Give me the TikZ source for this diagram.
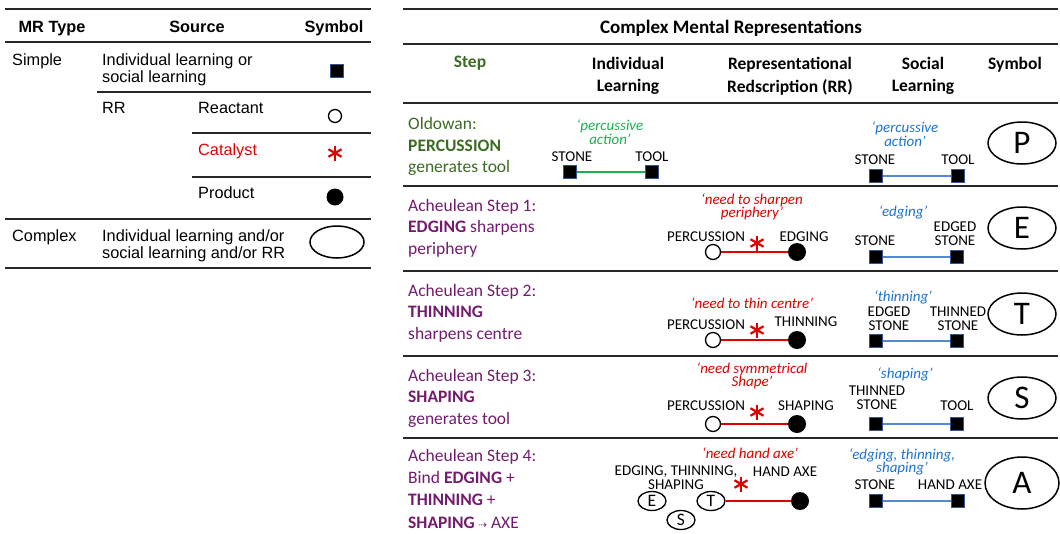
\documentclass[tikz,border=0pt]{standalone}
\usepackage{fontspec}
\setmainfont{Carlito}
\newfontfamily\arial{Liberation Sans}
\newfontfamily\dejavu{DejaVu Sans}
\usetikzlibrary{shapes.geometric}
\definecolor{dkgreen}{RGB}{60,108,36}
\definecolor{acpurple}{RGB}{115,28,110}
\definecolor{ltgreen}{RGB}{30,176,80}
\definecolor{bltext}{RGB}{30,115,210}
\definecolor{blline}{RGB}{85,135,210}
\definecolor{rrred}{RGB}{225,0,0}
\definecolor{sqblue}{RGB}{50,85,150}
\definecolor{rulegray}{RGB}{40,40,40}
\newcommand\catal[2]{%
  \coordinate (#1) at (#2);
  \draw[rrred, line width=2.2pt] (#1) ++(0,-7.5) -- ++(0,15);
  \draw[rrred, line width=2.2pt] (#1) ++(-6.5,-3.75) -- ++(13,7.5);
  \draw[rrred, line width=2.2pt] (#1) ++(-6.5,3.75) -- ++(13,-7.5);
}
\begin{document}
\begin{tikzpicture}[x=1pt,y=-1pt,
  lt/.style={font=\arial\fontsize{16.3}{17.3}\selectfont, inner sep=0, align=left},
  lth/.style={font=\arial\bfseries\fontsize{16.3}{17}\selectfont, inner sep=0, anchor=base},
  thickrule/.style={line width=2.2pt, draw=rulegray},
  rule/.style={line width=1.5pt, draw=rulegray},
  sq/.style={rectangle, draw=sqblue, fill=black, line width=1.3pt, minimum size=13pt, inner sep=0},
  oc/.style={circle, draw=black, line width=1.3pt, fill=white, minimum size=15pt, inner sep=0},
  fc/.style={circle, fill=black, minimum size=18pt, inner sep=0},
  big/.style={ellipse, draw=black, line width=1.5pt, minimum width=68pt, minimum height=42pt, inner sep=0, font=\fontsize{33}{33}\selectfont},
  small/.style={ellipse, draw=black, line width=1.3pt, minimum width=28pt, minimum height=19pt, inner sep=0, font=\fontsize{17.5}{17.5}\selectfont},
  lab/.style={font=\fontsize{15}{14}\selectfont, inner sep=0, align=center},
  itlab/.style={font=\fontsize{15}{13.5}\selectfont\itshape, inner sep=0, align=center},
  steptxt/.style={font=\fontsize{17.5}{21.5}\selectfont, inner sep=0, align=left, anchor=north west},
  hdr/.style={font=\bfseries\fontsize{17.5}{22.5}\selectfont, inner sep=0, align=center},
  redline/.style={draw=rrred, line width=1.8pt},
]
\useasboundingbox (0,0) rectangle (1060,533);
\fill[white] (0,0) rectangle (1060,533);

% ---------------- left table ----------------
\draw[thickrule] (5,9) -- (371,9);
\node[lth] (hmr) at (52,32) {MR Type};
\node[lth] (hsrc) at (197,32) {Source};
\node[lth] (hsym) at (334,32) {Symbol};
\draw[rule] (5,42) -- (371,42);
\node[lt, anchor=base west] (simple) at (12,65) {Simple};
\node[lt, anchor=north west] (src1) at (102,53.3) {Individual learning or\\social learning};
\node[sq] (symsq) at (337,71) {};
\draw[rule] (97,92) -- (371,92);
\node[lt, anchor=base west] (rr) at (102,113) {RR};
\node[lt, anchor=base west] (react) at (198,113) {Reactant};
\node[oc, minimum size=13pt] (symoc) at (335,116) {};
\draw[rule] (192,133) -- (371,133);
\node[lt, anchor=base west, text=rrred] (cat) at (198,155) {Catalyst};
\catal{symcat}{335,153}
\draw[rule] (192,177) -- (371,177);
\node[lt, anchor=base west] (prod) at (198,198) {Product};
\node[fc, minimum size=17pt] (symfc) at (335,197) {};
\draw[rule] (5,219) -- (371,219);
\node[lt, anchor=base west] (complex) at (12,241) {Complex};
\node[lt, anchor=north west] (src3) at (102,229.3) {Individual learning and/or\\social learning and/or RR};
\node[ellipse, draw=black, line width=1.5pt, minimum width=54pt, minimum height=32pt, inner sep=0] (symell) at (337,242) {};
\draw[thickrule] (5,268) -- (371,268);

% ---------------- right table ----------------
\draw[thickrule] (403,9) -- (1058,9);
\node[font=\bfseries\fontsize{19}{22}\selectfont, inner sep=0, anchor=base] (title) at (731,33.5) {Complex Mental Representations};
\draw[rule] (403,44) -- (1058,44);
\node[hdr, anchor=base, text=dkgreen] (hstep) at (470,67.5) {Step};
\node[hdr, anchor=north] (hil) at (628,57) {Individual\\Learning};
\node[hdr, anchor=north] (hrr) at (790,57) {Representational\\Redscription (RR)};
\node[hdr, anchor=north] (hsl) at (923,57) {Social\\Learning};
\node[hdr, anchor=base] (hsy) at (1015,69.5) {Symbol};
\draw[rule] (403,103) -- (1058,103);

% Row P
\node[steptxt, text=dkgreen] (stepP) at (408,117.5) {Oldowan:\\\textbf{PERCUSSION}\\generates tool};
\node[itlab, text=ltgreen] (qP1) at (610,132) {‘percussive\\action’};
\node[lab] (lstoneP) at (572,157) {STONE};
\node[lab] (ltoolP) at (652,157) {TOOL};
\node[sq] (sqP1) at (570,172) {};
\node[sq] (sqP2) at (652,172) {};
\draw[ltgreen, line width=1.5pt] (sqP1) -- (sqP2);
\node[itlab, text=bltext] (qP2) at (905,134) {‘percussive\\action’};
\node[lab] (sstoneP) at (875,160) {STONE};
\node[lab] (stoolP) at (958,160) {TOOL};
\node[sq] (sqP3) at (876,176) {};
\node[sq] (sqP4) at (958,176) {};
\draw[blline, line width=1.5pt] (sqP3) -- (sqP4);
\node[big] (symP) at (1022,143) {P};
\draw[rule] (403,186) -- (1058,186);

% Row E
\node[steptxt, text=acpurple] (stepE) at (408,199) {Acheulean Step 1:\\\textbf{EDGING} sharpens\\periphery};
\node[itlab, text=rrred] (qE1) at (752,207) {‘need to sharpen\\periphery’};
\node[lab] (percE) at (706,237) {PERCUSSION};
\node[lab] (edgE) at (804,237) {EDGING};
\catal{catE}{757,243}
\node[oc] (ocE) at (713,252) {};
\node[fc] (fcE) at (797,252) {};
\draw[redline] (ocE) -- (fcE);
\node[itlab, text=bltext] (qE2) at (903,212) {‘edging’};
\node[lab] (sstoneE) at (875,241) {STONE};
\node[lab] (edgedE) at (955,233.5) {EDGED\\STONE};
\node[sq] (sqE1) at (876,257) {};
\node[sq] (sqE2) at (957,257) {};
\draw[blline, line width=1.5pt] (sqE1) -- (sqE2);
\node[big] (symE) at (1022,228) {E};
\draw[rule] (403,271) -- (1058,271);

% Row T
\node[steptxt, text=acpurple] (stepT) at (408,284) {Acheulean Step 2:\\\textbf{THINNING}\\sharpens centre};
\node[itlab, text=rrred] (qT1) at (752,303) {‘need to thin centre’};
\node[lab] (percT) at (706,325) {PERCUSSION};
\node[lab] (thinT) at (806,322) {THINNING};
\catal{catT}{757,330}
\node[oc] (ocT) at (713,340) {};
\node[fc] (fcT) at (797,340) {};
\draw[redline] (ocT) -- (fcT);
\node[itlab, text=bltext] (qT2) at (903,297) {‘thinning’};
\node[lab] (edgedT) at (889,318.5) {EDGED\\STONE};
\node[lab] (thinnedT) at (958,318.5) {THINNED\\STONE};
\node[sq] (sqT1) at (876,341) {};
\node[sq] (sqT2) at (957,341) {};
\draw[blline, line width=1.5pt] (sqT1) -- (sqT2);
\node[big] (symT) at (1022,314) {T};
\draw[rule] (403,356) -- (1058,356);

% Row S
\node[steptxt, text=acpurple] (stepS) at (408,369) {Acheulean Step 3:\\\textbf{SHAPING}\\generates tool};
\node[itlab, text=rrred] (qS1) at (752,376) {‘need symmetrical\\Shape’};
\node[lab] (percS) at (706,406) {PERCUSSION};
\node[lab] (shapS) at (806,406) {SHAPING};
\catal{catS}{757,412}
\node[oc] (ocS) at (713,424) {};
\node[fc] (fcS) at (797,424) {};
\draw[redline] (ocS) -- (fcS);
\node[itlab, text=bltext] (qS2) at (905,374) {‘shaping’};
\node[lab] (thinnedS) at (877,398) {THINNED\\STONE};
\node[lab] (stoolS) at (957,406) {TOOL};
\node[sq] (sqS1) at (876,424) {};
\node[sq] (sqS2) at (957,424) {};
\draw[blline, line width=1.5pt] (sqS1) -- (sqS2);
\node[big] (symS) at (1022,398) {S};
\draw[rule] (403,438) -- (1058,438);

% Row A
\node[steptxt, text=acpurple, font=\fontsize{17.5}{22.3}\selectfont] (stepA) at (408,449) {Acheulean Step 4:\\Bind \textbf{EDGING} +\\\textbf{THINNING} +\\\textbf{SHAPING} {\dejavu\fontsize{10}{10}\selectfont ⇢} AXE};
\node[itlab, text=rrred] (qA1) at (750,453) {‘need hand axe’};
\node[lab] (etsA) at (676,477.5) {EDGING, THINNING,\\SHAPING};
\node[lab] (haxA) at (785,472) {HAND AXE};
\catal{catA}{741,484}
\node[small] (eA) at (652,501) {E};
\node[small] (tA) at (711,501) {T};
\node[small] (sA) at (681,520) {S};
\node[fc] (fcA) at (800,501) {};
\draw[redline] (tA) -- (fcA);
\node[itlab, text=bltext] (qA2) at (902,462) {‘edging, thinning,\\shaping’};
\node[lab] (sstoneA) at (875,485) {STONE};
\node[lab] (shaxA) at (950,485) {HAND AXE};
\node[sq] (sqA1) at (876,501) {};
\node[sq] (sqA2) at (958,501) {};
\draw[blline, line width=1.5pt] (sqA1) -- (sqA2);
\node[big, minimum width=74pt, minimum height=52pt] (symA) at (1022,483) {A};
\end{tikzpicture}
\end{document}
